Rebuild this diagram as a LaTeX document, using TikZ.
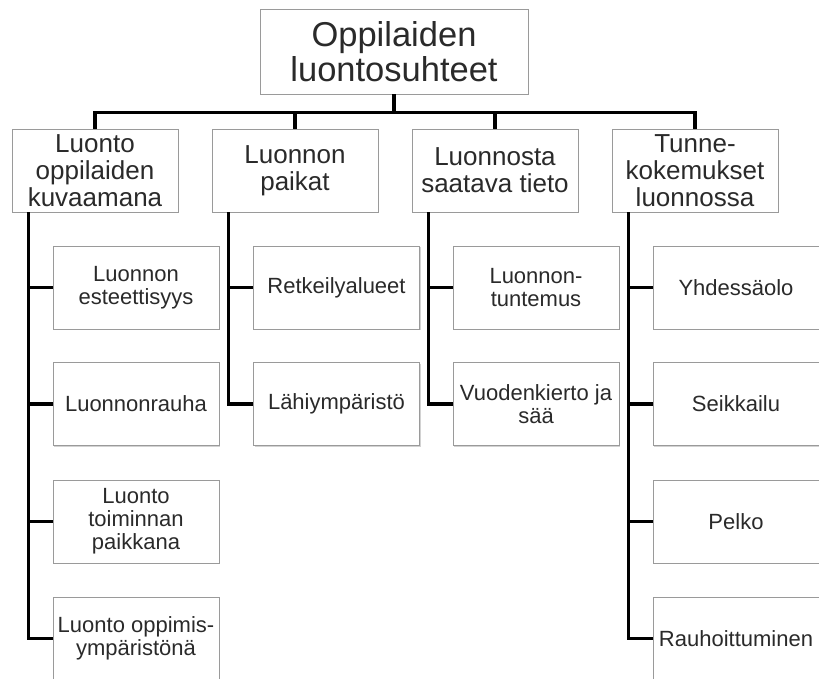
\documentclass[tikz,border=0pt]{standalone}
\usepackage{fontspec}
\setmainfont{Liberation Sans}
\usetikzlibrary{shadows}
\definecolor{boxline}{HTML}{9A9A9A}
\definecolor{boxtext}{HTML}{2A2A2A}
\tikzset{
  box/.style={draw=boxline, line width=0.9pt, fill=white, text=boxtext, align=center, inner sep=1pt,
    drop shadow={shadow xshift=1.2pt, shadow yshift=-1.2pt, opacity=0.35}},
  rootbox/.style={box, minimum width=268pt, minimum height=85pt, font=\fontsize{34.5}{35.5}\selectfont},
  mainbox/.style={box, minimum width=166pt, minimum height=83pt, font=\fontsize{26}{27}\selectfont},
  leafbox/.style={box, minimum width=166pt, minimum height=83pt, font=\fontsize{22}{23}\selectfont},
  link/.style={draw=black, line width=3.6pt}
}
\begin{document}
\begin{tikzpicture}[x=1pt,y=-1pt]
\useasboundingbox[fill=white] (0,0) rectangle (819,679);
\node[rootbox] (root) at (394,51.5) {Oppilaiden\\luontosuhteet};
\node[mainbox] (kuva) at (95,170.5) {Luonto\\oppilaiden\\kuvaamana};
\node[mainbox] (paikat) at (295,170.5) {Luonnon\\paikat};
\node[mainbox] (tieto) at (495,170.5) {Luonnosta\\saatava tieto};
\node[mainbox] (tunne) at (695,170.5) {Tunne-\\kokemukset\\luonnossa};
\node[leafbox] (esteettisyys) at (136,287.5) {Luonnon\\esteettisyys};
\node[leafbox] (rauha) at (136,404) {Luonnonrauha};
\node[leafbox] (toiminta) at (136,521.5) {Luonto\\toiminnan\\paikkana};
\node[leafbox] (oppiminen) at (136,638.5) {Luonto oppimis-\\ympäristönä};
\node[leafbox] (retkeily) at (336.5,287.5) {Retkeilyalueet};
\node[leafbox] (lahi) at (336.5,404) {Lähiympäristö};
\node[leafbox] (tuntemus) at (536,287.5) {Luonnon-\\tuntemus};
\node[leafbox] (vuosi) at (536,404) {Vuodenkierto ja\\sää};
\node[leafbox] (yhdessa) at (736,287.5) {Yhdessäolo};
\node[leafbox] (seikkailu) at (736,404) {Seikkailu};
\node[leafbox] (pelko) at (736,521.5) {Pelko};
\node[leafbox] (rauhoittuminen) at (736,638.5) {Rauhoittuminen};
% ylataso
\draw[link] (root.south) -- ++(0,18) -| (kuva.north);
\draw[link] (root.south) -- ++(0,18) -| (paikat.north);
\draw[link] (root.south) -- ++(0,18) -| (tieto.north);
\draw[link] (root.south) -- ++(0,18) -| (tunne.north);
% alataso
\draw[link] ([xshift=17pt]kuva.south west) |- (esteettisyys.west);
\draw[link] ([xshift=17pt]kuva.south west) |- (rauha.west);
\draw[link] ([xshift=17pt]kuva.south west) |- (toiminta.west);
\draw[link] ([xshift=17pt]kuva.south west) |- (oppiminen.west);
\draw[link] ([xshift=17pt]paikat.south west) |- (retkeily.west);
\draw[link] ([xshift=17pt]paikat.south west) |- (lahi.west);
\draw[link] ([xshift=17pt]tieto.south west) |- (tuntemus.west);
\draw[link] ([xshift=17pt]tieto.south west) |- (vuosi.west);
\draw[link] ([xshift=17pt]tunne.south west) |- (yhdessa.west);
\draw[link] ([xshift=17pt]tunne.south west) |- (seikkailu.west);
\draw[link] ([xshift=17pt]tunne.south west) |- (pelko.west);
\draw[link] ([xshift=17pt]tunne.south west) |- (rauhoittuminen.west);
\end{tikzpicture}
\end{document}
